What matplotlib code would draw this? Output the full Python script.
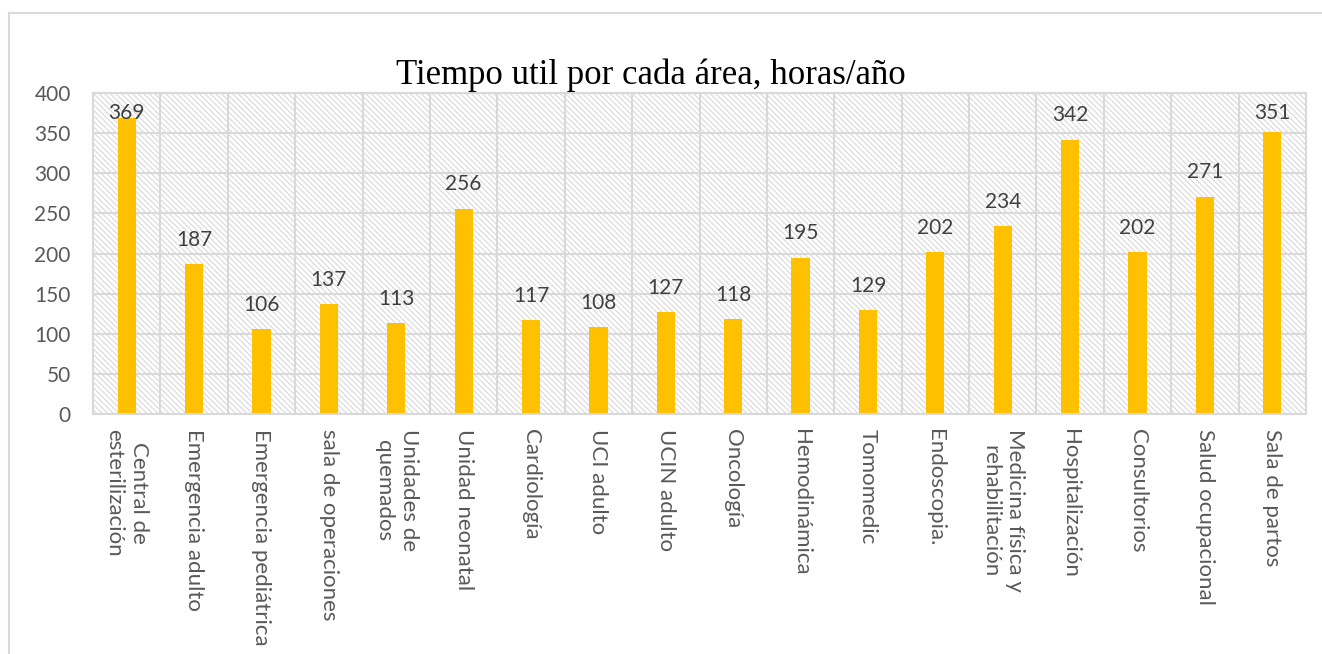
import numpy as np
import matplotlib.pyplot as plt
from matplotlib.patches import Rectangle
from matplotlib.lines import Line2D

# data
areas = ["Central de\nesterilización", "Emergencia adulto", "Emergencia pediátrica",
         "sala de operaciones", "Unidades de\nquemados", "Unidad neonatal",
         "Cardiología", "UCI adulto", "UCIN adulto", "Oncología", "Hemodinámica",
         "Tomomedic", "Endoscopia.", "Medicina física y\nrehabilitación",
         "Hospitalización", "Consultorios", "Salud ocupacional", "Sala de partos"]
horas = [369, 187, 106, 137, 113, 256, 117, 108, 127, 118, 195, 129, 202, 234,
         342, 202, 271, 351]

grid_col = '#d9d9d9'
txt_col = '#595959'
plt.rcParams['hatch.linewidth'] = 0.8

fig = plt.figure(figsize=(13.22, 6.54), dpi=100)
ax = fig.add_axes([93/1322, 1 - 414/654, (1306 - 93)/1322, (414 - 93)/654])

# outer chart border (left and top visible)
fig.add_artist(Line2D([9/1322, 9/1322], [0, 1 - 13/654], color=grid_col, lw=1.5))
fig.add_artist(Line2D([9/1322, 1], [1 - 13/654, 1 - 13/654], color=grid_col, lw=1.5))

x = np.arange(len(areas))
n = len(areas)

# hatched plot-area background
ax.add_patch(Rectangle((0, 0), 1, 1, transform=ax.transAxes, facecolor='white',
                       edgecolor='#d9d9d9', linewidth=0, hatch='\\' * 6, zorder=0))

ax.set_xlim(-0.5, n - 0.5)
ax.set_ylim(0, 400)
ax.set_yticks(np.arange(0, 401, 50))
for yv in np.arange(50, 401, 50):
    ax.axhline(yv, color=grid_col, lw=1.5, zorder=1)
for xv in np.arange(0.5, n - 0.5, 1):
    ax.axvline(xv, color=grid_col, lw=1.5, zorder=1)

ax.bar(x, horas, width=0.27, color='#FFC000', zorder=2)

for xi, v in zip(x, horas):
    ax.text(xi, min(v + 30, 375), str(v), ha='center', va='center',
            fontsize=15, color='#404040', family='Lato', zorder=3)

for s in ax.spines.values():
    s.set_color(grid_col)
    s.set_linewidth(1.5)

ax.set_xticks(x)
ax.set_xticklabels(areas, rotation=270, ha='center', va='top',
                   multialignment='center', fontsize=16, color=txt_col,
                   family='Lato', linespacing=1.3)
ax.tick_params(axis='x', length=0, pad=11)
ax.tick_params(axis='y', length=0, pad=16, labelsize=15, labelcolor=txt_col)
for lbl in ax.get_yticklabels():
    lbl.set_family('Lato')

fig.text(651/1322, 1 - 75/654, 'Tiempo util por cada área, horas/año',
         ha='center', va='center', fontsize=25, family='Liberation Serif',
         color='black')

plt.savefig('out.png', dpi=100)
